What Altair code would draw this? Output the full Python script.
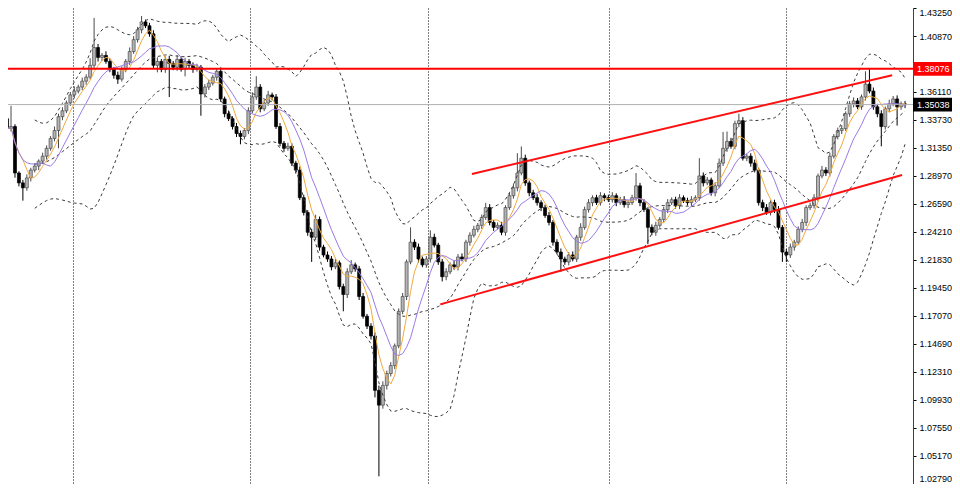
import altair as alt
import pandas as pd

# ---- data ----
closes = [
    1.3300, 1.3317, 1.2922, 1.2838, 1.2796, 1.2880, 1.2947, 1.2981, 1.3023, 1.3065,
    1.3132, 1.3216, 1.3283, 1.3401, 1.3451, 1.3518, 1.3586, 1.3619, 1.3653, 1.3703,
    1.3737, 1.3838, 1.3989, 1.3905, 1.3922, 1.3871, 1.3804, 1.3754, 1.3720, 1.3804,
    1.3871, 1.3955, 1.4056, 1.4140, 1.4207, 1.4174, 1.4106, 1.3838, 1.3871, 1.3804,
    1.3888, 1.3854, 1.3821, 1.3888, 1.3804, 1.3871, 1.3838, 1.3804, 1.3821, 1.3594,
    1.3653, 1.3686, 1.3737, 1.3787, 1.3552, 1.3426, 1.3384, 1.3317, 1.3258, 1.3233,
    1.3283, 1.3451, 1.3569, 1.3653, 1.3468, 1.3518, 1.3586, 1.3569, 1.3317, 1.3174,
    1.3132, 1.3149, 1.3006, 1.2947, 1.2712, 1.2586, 1.2418, 1.2376, 1.2527, 1.2292,
    1.2225, 1.2191, 1.2124, 1.2158, 1.1956, 1.1889, 1.2082, 1.2141, 1.2107, 1.1872,
    1.1704, 1.1620, 1.1536, 1.1074, 1.0948, 1.1116, 1.1217, 1.1284, 1.1452, 1.1746,
    1.1872, 1.2166, 1.2334, 1.2292, 1.2191, 1.2141, 1.2191, 1.2376, 1.2309, 1.2166,
    1.2040, 1.2082, 1.2141, 1.2124, 1.2208, 1.2191, 1.2334, 1.2393, 1.2443, 1.2477,
    1.2544, 1.2628, 1.2502, 1.2460, 1.2477, 1.2418, 1.2628, 1.2729, 1.2796, 1.2922,
    1.3048, 1.2838, 1.2754, 1.2712, 1.2670, 1.2628, 1.2561, 1.2502, 1.2334, 1.2250,
    1.2191, 1.2166, 1.2225, 1.2191, 1.2376, 1.2460, 1.2611, 1.2670, 1.2712, 1.2670,
    1.2729, 1.2712, 1.2695, 1.2729, 1.2670, 1.2695, 1.2653, 1.2670, 1.2712, 1.2813,
    1.2670, 1.2611, 1.2460, 1.2418, 1.2477, 1.2527, 1.2611, 1.2670, 1.2695, 1.2645,
    1.2712, 1.2687, 1.2670, 1.2695, 1.2712, 1.2897, 1.2838, 1.2863, 1.2754, 1.2813,
    1.3006, 1.3132, 1.3191, 1.3149, 1.3342, 1.3367, 1.3048, 1.3065, 1.3006, 1.2947,
    1.2670, 1.2628, 1.2586, 1.2670, 1.2611, 1.2460, 1.2250, 1.2225, 1.2292, 1.2334,
    1.2443, 1.2502, 1.2628, 1.2645, 1.2712, 1.2897, 1.2947, 1.2922, 1.3065, 1.3233,
    1.3283, 1.3300, 1.3426, 1.3510, 1.3535, 1.3485, 1.3569, 1.3678, 1.3619, 1.3485,
    1.3426, 1.3317, 1.3468, 1.3510, 1.3552, 1.3485, 1.3510, 1.3504,
]
first_open = 1.3384

# upper / lower wick lengths in pips
wick_hi = [
    30, 176, 20, 15, 25, 30, 20, 25, 15, 30, 25, 20, 35, 25, 30, 20, 25, 40, 20, 30,
    25, 60, 252, 30, 20, 35, 25, 20, 30, 25, 20, 35, 30, 25, 50, 20, 25, 30, 35, 20,
    25, 30, 20, 35, 25, 30, 20, 25, 30, 20, 25, 30, 20, 25, 30, 20, 25, 20, 30, 25,
    20, 30, 40, 92, 25, 30, 35, 20, 25, 30, 20, 30, 25, 20, 30, 25, 20, 30, 40, 25,
    20, 30, 25, 35, 20, 25, 30, 40, 20, 25, 30, 20, 25, 30, 40, 35, 25, 30, 20, 25,
    30, 20, 126, 25, 30, 20, 25, 59, 30, 20, 25, 30, 20, 35, 25, 30, 20, 25, 30, 20,
    25, 40, 30, 20, 25, 30, 20, 25, 35, 168, 100, 30, 20, 25, 30, 20, 25, 30, 20, 25,
    30, 20, 25, 30, 20, 35, 25, 30, 20, 25, 30, 20, 25, 30, 20, 25, 30, 20, 25, 109,
    25, 30, 20, 25, 30, 20, 25, 30, 20, 25, 30, 20, 25, 30, 20, 151, 30, 25, 20, 30,
    40, 140, 84, 30, 25, 59, 30, 20, 25, 30, 20, 25, 30, 20, 25, 30, 20, 25, 30, 20,
    25, 30, 20, 25, 30, 20, 35, 25, 30, 20, 25, 30, 20, 25, 30, 25, 20, 109, 126, 30,
    25, 30, 20, 35, 25, 30, 20, 25,
]
wick_lo = [
    30, 25, 40, 30, 109, 25, 30, 20, 35, 25, 30, 20, 25, 151, 30, 20, 25, 30, 20, 25,
    30, 20, 25, 35, 30, 20, 25, 30, 40, 20, 25, 30, 20, 25, 30, 20, 25, 30, 60, 25,
    30, 286, 25, 30, 20, 60, 25, 30, 20, 185, 30, 25, 20, 30, 25, 30, 20, 25, 30, 67,
    25, 30, 20, 25, 30, 20, 25, 30, 20, 25, 30, 20, 25, 30, 20, 25, 30, 210, 25, 30,
    20, 25, 30, 20, 25, 143, 30, 20, 25, 30, 20, 25, 30, 60, 605, 30, 35, 25, 30, 20,
    25, 30, 20, 25, 30, 20, 25, 30, 20, 25, 40, 30, 20, 25, 30, 20, 25, 30, 20, 25,
    30, 20, 25, 30, 20, 25, 30, 20, 25, 30, 20, 25, 30, 20, 25, 30, 20, 25, 30, 20,
    109, 25, 30, 20, 25, 30, 20, 25, 30, 20, 25, 30, 20, 25, 30, 20, 25, 30, 20, 25,
    30, 20, 143, 25, 30, 20, 25, 30, 20, 25, 30, 20, 25, 30, 20, 25, 30, 20, 25, 30,
    20, 25, 30, 20, 25, 30, 20, 25, 30, 20, 25, 30, 20, 25, 30, 20, 84, 59, 25, 30,
    20, 25, 30, 20, 25, 30, 20, 25, 30, 20, 25, 30, 20, 25, 30, 20, 25, 30, 20, 25,
    30, 168, 25, 30, 20, 160, 25, 30,
]

tick_vals = [1.43250, 1.40870, 1.38490, 1.36110, 1.33730, 1.31350, 1.28970, 1.26590,
             1.24210, 1.21830, 1.19450, 1.17070, 1.14690, 1.12310, 1.09930, 1.07550,
             1.05170, 1.02790]
grid_x = [16.7, 61.5, 106.4, 152.2, 197.0]   # period separators (candle index)

level_price = 1.38076
bid_price = 1.35038

chan_upper_x = [117.5, 223.75]
chan_upper_p = [1.2914, 1.3754]
chan_lower_x = [109.5, 226.25]
chan_lower_p = [1.1805, 1.2905]

# ---- tables ----
n = len(closes)
opens = [first_open] + closes[:-1]
df = pd.DataFrame({"i": list(range(n)), "open": opens, "close": closes})
df["high"] = df[["open", "close"]].max(axis=1) + pd.Series(wick_hi[:n]) * 0.0001
df["low"] = df[["open", "close"]].min(axis=1) - pd.Series(wick_lo[:n]) * 0.0001
df["dir"] = ["up" if c >= o else "down" for o, c in zip(opens, closes)]

cs = df["close"]
ind = pd.DataFrame({"i": df["i"]})
ind["ma5"] = cs.rolling(5, min_periods=1).mean()
ind["ma10"] = cs.rolling(10, min_periods=1).mean()
mid = cs.rolling(20, min_periods=8).mean()
sd = cs.rolling(20, min_periods=8).std(ddof=0)
ind["bb_up"] = mid + 2 * sd
ind["bb_mid"] = mid
ind["bb_lo"] = mid - 2 * sd

bands = ind.melt(id_vars="i", value_vars=["bb_up", "bb_mid", "bb_lo"],
                 var_name="band", value_name="v").dropna()
mas = ind.melt(id_vars="i", value_vars=["ma5", "ma10"], var_name="ma", value_name="v")

chan = pd.DataFrame({
    "i": chan_upper_x + chan_lower_x,
    "p": chan_upper_p + chan_lower_p,
    "line": ["up", "up", "lo", "lo"],
})

boxes = pd.DataFrame({
    "price": [level_price, bid_price],
    "label": [f"{level_price:.5f}", f"{bid_price:.5f}"],
})
boxes["top"] = boxes["price"] + 0.0058
boxes["bot"] = boxes["price"] - 0.0058

# ---- scales / axes ----
PLOT_W, PLOT_H = 905, 476
xscale = alt.Scale(domain=[1.5, 1.5 + PLOT_W / 4.0], nice=False, zero=False)
yscale = alt.Scale(domain=[1.02775, 1.43252], nice=False, zero=False)
xaxis = alt.Axis(values=grid_x, grid=True, gridDash=[1, 2], gridColor="#000000",
                 gridOpacity=1, gridWidth=1, labels=False, ticks=False, domain=False,
                 title=None)
yaxis = alt.Axis(orient="right", values=tick_vals, format=".5f", labelFont="Liberation Sans",
                 labelFontSize=9, labelColor="#000000", tickSize=3, tickColor="#000000",
                 domainColor="#404040", labelPadding=3, grid=False, title=None,
                 labelOverlap=False, labelFlush=False,
                 labelBaseline={"condition": [
                     {"test": "datum.value > 1.43", "value": "top"},
                     {"test": "datum.value < 1.03", "value": "bottom"}],
                     "value": "middle"})


def X(f="i"):
    return alt.X(f"{f}:Q", scale=xscale, axis=xaxis)


def Y(f, **kw):
    return alt.Y(f"{f}:Q", scale=yscale, axis=yaxis, **kw)


dir_stroke = alt.Scale(domain=["up", "down"], range=["#4a4a4a", "#000000"])
dir_fill = alt.Scale(domain=["up", "down"], range=["#b4b4b4", "#000000"])

base = alt.Chart(df)
wicks = base.mark_rule(strokeWidth=1, clip=True).encode(
    x=X(), y=Y("low"), y2="high",
    stroke=alt.Stroke("dir:N", scale=dir_stroke, legend=None))
bodies = base.mark_bar(size=3, strokeWidth=0.7, clip=True).encode(
    x=X(), y=Y("open"), y2="close",
    fill=alt.Fill("dir:N", scale=dir_fill, legend=None),
    stroke=alt.Stroke("dir:N", scale=dir_stroke, legend=None))

band_lines = alt.Chart(bands).mark_line(strokeDash=[3, 3], color="#3a3a3a",
                                          strokeWidth=1, clip=True).encode(
    x=X(), y=Y("v"), detail="band:N")

ma_lines = alt.Chart(mas).mark_line(strokeWidth=1, clip=True).encode(
    x=X(), y=Y("v"),
    color=alt.Color("ma:N", scale=alt.Scale(domain=["ma5", "ma10"],
                                            range=["#f2aa3c", "#9a7be6"]), legend=None))

bid_line = alt.Chart(boxes.iloc[[1]]).mark_rule(color="#b0b0b0", strokeWidth=1).encode(
    y=Y("price"))
level_line = alt.Chart(boxes.iloc[[0]]).mark_rule(color="#ff0000", strokeWidth=2).encode(
    y=Y("price"))

chan_lines = alt.Chart(chan).mark_line(color="#ff1010", strokeWidth=2, clip=True).encode(
    x=X(), y=Y("p"), detail="line:N")

box_level = alt.Chart(boxes.iloc[[0]]).mark_rect(color="#ff0000", clip=False).encode(
    x=alt.value(PLOT_W), x2=alt.value(PLOT_W + 39), y=Y("top"), y2="bot")
box_bid = alt.Chart(boxes.iloc[[1]]).mark_rect(color="#000000", clip=False).encode(
    x=alt.value(PLOT_W), x2=alt.value(PLOT_W + 39), y=Y("top"), y2="bot")
box_text = alt.Chart(boxes).mark_text(align="left", baseline="middle", font="Liberation Sans",
                                      fontSize=9, color="#ffffff", clip=False).encode(
    x=alt.value(PLOT_W + 4), y=Y("price"), text="label:N")

chart = alt.layer(
    wicks, bodies, band_lines, ma_lines, bid_line, level_line, chan_lines,
    box_level, box_bid, box_text
).properties(
    width=PLOT_W, height=PLOT_H,
    autosize=alt.AutoSizeParams(type="none"),
    padding={"left": 0, "top": 0, "right": 39, "bottom": 0},
    background="#ffffff",
).configure_view(stroke=None)

chart.save("out.html", embed_options={"renderer": "svg", "actions": False})
